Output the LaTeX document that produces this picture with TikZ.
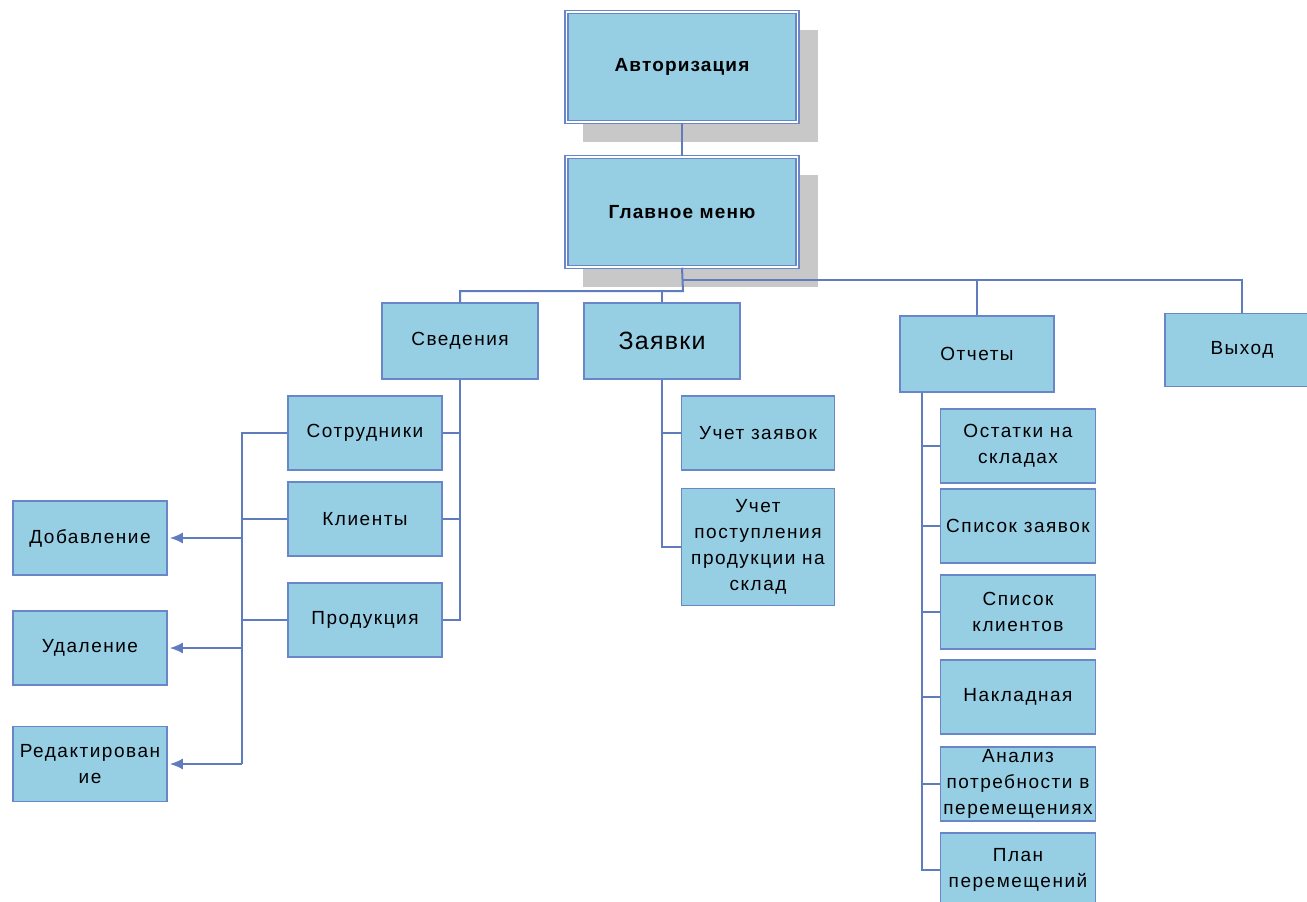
\documentclass[tikz,border=0pt]{standalone}
\usepackage{fontspec}
\setmainfont{Liberation Sans}
\usetikzlibrary{shadows,arrows.meta}
\definecolor{box_fill}{RGB}{150,206,228}
\definecolor{box_edge}{RGB}{105,135,200}
\definecolor{line_blue}{RGB}{95,125,190}
\definecolor{shadow_gray}{RGB}{200,200,200}

\tikzset{
  blok/.style={draw=box_edge, line width=1.5pt, fill=box_fill, minimum width=154pt, minimum height=74pt, inner sep=0pt, align=center, font=\fontsize{19}{26}\selectfont\addfontfeature{LetterSpace=8}},
  glavblok/.style={blok, minimum width=231pt, minimum height=110pt, double=white, double distance=1.2pt, font=\fontsize{19}{24}\selectfont\bfseries\addfontfeature{LetterSpace=6}, drop shadow={shadow xshift=18pt, shadow yshift=-19pt, shadow scale=1.02, fill=shadow_gray, draw=none, opacity=1}},
  svyaz/.style={draw=line_blue, line width=2pt},
  strelka/.style={svyaz, -{Latex[length=13pt,width=11pt]}, shorten >=2pt}
}

\begin{document}
\begin{tikzpicture}[x=1pt, y=-1pt]
\useasboundingbox (0,0) rectangle (1307,902);
\clip (0,0) rectangle (1307,902);

\node[glavblok] (avt) at (682,67) {Авторизация};
\node[glavblok] (glav) at (682,212) {Главное меню};

\node[blok, minimum width=156pt, minimum height=76pt] (sved) at (460,341) {Сведения};
\node[blok, minimum width=156pt, minimum height=76pt, font=\fontsize{25}{30}\selectfont\addfontfeature{LetterSpace=5}] (zayav) at (662,341) {Заявки};
\node[blok, minimum height=76pt] (otch) at (977,354) {Отчеты};
\node[blok, minimum height=73pt] (vyhod) at (1242,350) {Выход};

\node[blok] (sotr) at (365,433) {Сотрудники};
\node[blok] (klient) at (365,519) {Клиенты};
\node[blok] (prod) at (365,620) {Продукция};

\node[blok] (dob) at (90,538) {Добавление};
\node[blok] (udal) at (90,648) {Удаление};
\node[blok, minimum height=75pt] (red) at (90,764) {Редактирован\\ие};

\node[blok, minimum width=153pt] (uchz) at (758,433) {Учет заявок};
\node[blok, minimum width=153pt, minimum height=117pt] (uchp) at (758,547) {Учет\\поступления\\продукции на\\склад};

\node[blok, minimum width=155pt] (ost) at (1018,446) {Остатки на\\складах};
\node[blok, minimum width=155pt] (spz) at (1018,526) {Список заявок};
\node[blok, minimum width=155pt] (spk) at (1018,612) {Список\\клиентов};
\node[blok, minimum width=155pt] (nakl) at (1018,697) {Накладная};
\node[blok, minimum width=155pt] (anal) at (1018,784) {Анализ\\потребности в\\перемещениях};
\node[blok, minimum width=155pt] (plan) at (1018,870) {План\\перемещений};

\coordinate (razv_verh) at (683,280);
\coordinate (razv_niz) at (683,291);
\coordinate (shina) at (242,437);
\coordinate (otch_shina) at ([xshift=23pt]otch.south west);

\draw[svyaz] (avt) -- (glav);
\draw[svyaz] (glav.south) -- (razv_niz) -| (sved.north);
\draw[svyaz] (razv_niz -| zayav.north) -- (zayav.north);
\draw[svyaz] (razv_verh) -| (vyhod.north);
\draw[svyaz] (razv_verh -| otch.north) -- (otch.north);

\draw[svyaz] (sved.south) |- (prod.east);
\draw[svyaz] (sved.south |- sotr.east) -- (sotr.east);
\draw[svyaz] (sved.south |- klient.east) -- (klient.east);

\draw[svyaz] (sotr.west) -- (shina |- sotr.west) -- (shina |- red.east);
\draw[svyaz] (klient.west) -- (shina |- klient.west);
\draw[svyaz] (prod.west) -- (shina |- prod.west);
\foreach \n in {dob,udal,red}
  \draw[strelka] (shina |- \n.east) -- (\n.east);

\draw[svyaz] (zayav.south) |- (uchp.west);
\draw[svyaz] (zayav.south |- uchz.west) -- (uchz.west);

\draw[svyaz] (otch_shina) |- (plan.west);
\foreach \n in {ost,spz,spk,nakl,anal}
  \draw[svyaz] (otch_shina |- \n.west) -- (\n.west);

\end{tikzpicture}
\end{document}
